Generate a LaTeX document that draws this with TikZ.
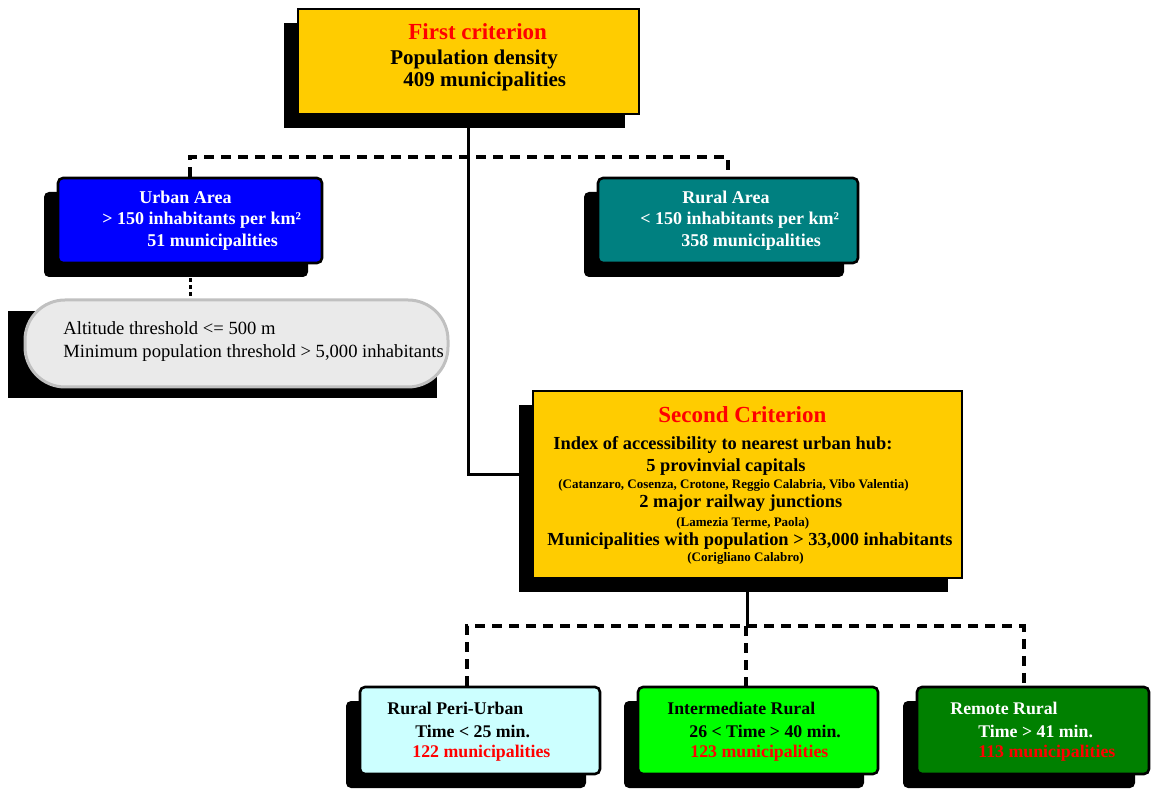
\documentclass[tikz,border=0pt]{standalone}
\usepackage{fontspec}
\setmainfont{Liberation Serif}
\usetikzlibrary{positioning,fit,shadows}

\definecolor{critfill}{HTML}{FFCC00}
\definecolor{critred}{HTML}{FF0000}
\definecolor{urbanfill}{HTML}{0000FF}
\definecolor{ruralfill}{HTML}{008080}
\definecolor{condfill}{HTML}{EAEAEA}
\definecolor{condline}{HTML}{C0C0C0}
\definecolor{perifill}{HTML}{CCFFFF}
\definecolor{interfill}{HTML}{00FF00}
\definecolor{remotefill}{HTML}{008000}

\tikzset{
  boxshadow/.style={drop shadow={shadow xshift=-7pt,shadow yshift=-7pt,fill=black,opacity=1}},
  crit/.style={rectangle,draw=black,line width=1pt,fill=critfill,inner sep=0pt,boxshadow},
  zone/.style={rectangle,rounded corners=2.5pt,draw=black,line width=1.3pt,inner sep=0pt,boxshadow},
  cond/.style={rectangle,rounded corners=20pt,draw=condline,line width=1.5pt,fill=condfill,inner sep=0pt},
  lines/.style={align=left,inner sep=0pt,anchor=base west},
  link/.style={line width=1.5pt},
  split/.style={line width=2pt,dash pattern=on 5pt off 3.5pt},
  hint/.style={line width=1.5pt,dash pattern=on 2pt off 1.5pt}
}

\begin{document}
\begin{tikzpicture}[x=0.5pt,y=-0.5pt]
\useasboundingbox (0,0) rectangle (1151,790);
% first criterion
\node[crit,fit={(298,9) (639,114)}](first){};
\node[lines,font=\fontsize{10.5}{11}\selectfont\bfseries](first-txt) at (390,87)
  {\hspace*{9pt}{\fontsize{11.5}{12}\selectfont\color{critred}First criterion}\\[1.5pt]
   Population density\\
   \hspace*{6.5pt}409 municipalities};
% urban / rural
\node[zone,fill=urbanfill,fit={(58,178) (322,263)}](urban){};
\node[lines,text=white,font=\fontsize{9}{10.5}\selectfont\bfseries](urban-txt) at (102,247)
  {\hspace*{18.5pt}Urban Area\\
   > 150 inhabitants per km²\\[0.5pt]
   \hspace*{22.5pt}51 municipalities};
\node[zone,fill=ruralfill,fit={(598,178) (858,263)}](rural){};
\node[lines,text=white,font=\fontsize{9}{10.5}\selectfont\bfseries](rural-txt) at (640,247)
  {\hspace*{21pt}Rural Area\\
   < 150 inhabitants per km²\\[0.5pt]
   \hspace*{20.5pt}358 municipalities};
% thresholds
\fill[black] (8,311) rectangle (437,398);
\node[cond,fit={(25,300) (448,387)}](cond){};
\node[lines,font=\fontsize{9.3}{11.5}\selectfont](cond-txt) at (63,358)
  {Altitude threshold <= 500 m\\
   Minimum population threshold > 5,000 inhabitants};
% second criterion
\node[crit,fit={(533,391) (962,578)}](second){};
\node[lines,font=\fontsize{9.2}{9}\selectfont\bfseries](second-txt) at (547,562)
  {\hspace*{55.5pt}{\fontsize{11.5}{12}\selectfont\color{critred}Second Criterion}\\[5pt]
   \hspace*{3pt}Index of accessibility to nearest urban hub:\\[2pt]
   \hspace*{49.5pt}5 provinvial capitals\\[-0.5pt]
   \hspace*{5.5pt}{\fontsize{6.5}{6}\selectfont (Catanzaro, Cosenza, Crotone, Reggio Calabria, Vibo Valentia)}\\
   \hspace*{46pt}2 major railway junctions\\[1pt]
   \hspace*{64.5pt}{\fontsize{6.5}{6}\selectfont (Lamezia Terme, Paola)}\\[0.5pt]
   Municipalities with population > 33,000 inhabitants\\[-1pt]
   \hspace*{70pt}{\fontsize{6.5}{6}\selectfont (Corigliano Calabro)}};
% accessibility classes
\node[zone,fill=perifill,fit={(360,687) (600,774)}](peri){};
\node[lines,font=\fontsize{8.9}{10}\selectfont\bfseries](peri-txt) at (387,757)
  {Rural Peri-Urban\\[1.5pt]
   \hspace*{14pt}Time < 25 min.\\
   \hspace*{12.5pt}{\color{critred}122 municipalities}};
\node[zone,fill=interfill,fit={(638,687) (878,774)}](inter){};
\node[lines,font=\fontsize{8.9}{10}\selectfont\bfseries](inter-txt) at (667,757)
  {Intermediate Rural\\[1.5pt]
   \hspace*{11pt}26 < Time > 40 min.\\
   \hspace*{11.5pt}{\color{critred}123 municipalities}};
\node[zone,fill=remotefill,fit={(917,687) (1149,774)}](remote){};
\node[lines,text=white,font=\fontsize{8.9}{10}\selectfont\bfseries](remote-txt) at (950,757)
  {Remote Rural\\[1.5pt]
   \hspace*{14pt}Time > 41 min.\\
   \hspace*{14pt}{\color{critred}113 municipalities}};
% connectors
\coordinate (upper-split) at (0,157);
\coordinate (lower-split) at (0,626);
\coordinate (peri-top) at ([xshift=-6.5pt]peri.north);
\coordinate (inter-top) at ([xshift=-6pt]inter.north);
\coordinate (remote-top) at ([xshift=-4.75pt]remote.north);
\draw[split] (urban.north) |- (rural.north |- upper-split) -- (rural.north);
\draw[link] (first.south) |- ([yshift=4.75pt]second.west);
\draw[hint] (urban.south) -- (urban.south |- cond.north);
\draw[link] (second.south) -- (second.south |- lower-split);
\draw[split] (peri-top) |- (remote-top |- lower-split) -- (remote-top);
\draw[split] (inter-top |- lower-split) -- (inter-top);
\end{tikzpicture}
\end{document}
